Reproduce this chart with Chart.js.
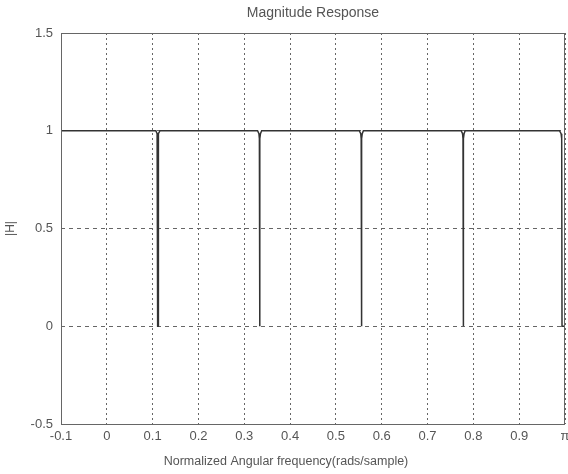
<!DOCTYPE html>
<html><head><meta charset="utf-8">
<script src="https://cdn.jsdelivr.net/npm/chart.js@4/dist/chart.umd.min.js"></script>
<style>html,body{margin:0;padding:0;background:#fff}#wrap{width:568px;height:474px}</style>
</head><body><div id="wrap"><canvas id="c" width="568" height="474"></canvas></div>
<script>
const freq = [-0.1, 0.107, 0.1098, 0.1108, 0.1111, 0.1118, 0.1121, 0.1131, 0.116,
  0.329, 0.332, 0.333, 0.3333, 0.334, 0.3343, 0.3353, 0.338,
  0.551, 0.5542, 0.5552, 0.5555, 0.5562, 0.5565, 0.5575, 0.560,
  0.7735, 0.7764, 0.7774, 0.7777, 0.7784, 0.7787, 0.7797, 0.782,
  0.988, 0.9915, 0.9928, 0.9935, 1.0];
const mag = [1, 1, 0.985, 0.96, 0, 0, 0.96, 0.985, 1,
  1, 0.985, 0.96, 0, 0, 0.96, 0.985, 1,
  1, 0.985, 0.96, 0, 0, 0.96, 0.985, 1,
  1, 0.985, 0.96, 0, 0, 0.96, 0.985, 1,
  1, 0.985, 0.96, 0, 0];
const xTickValues = [-0.1, 0, 0.1, 0.2, 0.3, 0.4, 0.5, 0.6, 0.7, 0.8, 0.9, 1.0];
const xTickLabels = ['-0.1', '0', '0.1', '0.2', '0.3', '0.4', '0.5', '0.6', '0.7', '0.8', '0.9', 'π'];
const yTickValues = [-0.5, 0, 0.5, 1, 1.5];
const yTickLabels = ['-0.5', '0', '0.5', '1', '1.5'];
const titleText = 'Magnitude Response';
const xLabelText = 'Normalized Angular frequency(rads/sample)';

const txt = '#555';
const fam = 'Liberation Sans, Arial, sans-serif';
const font = {family: fam, size: 13};

const boxPlugin = {
  id: 'box',
  afterDraw(chart) {
    const a = chart.chartArea, ctx = chart.ctx;
    ctx.save();
    ctx.strokeStyle = '#666';
    ctx.lineWidth = 1;
    ctx.strokeRect(Math.round(a.left) + 0.5, Math.round(a.top) + 0.5, Math.round(a.right - a.left) - 1, Math.round(a.bottom - a.top));
    ctx.fillStyle = txt;
    ctx.textAlign = 'center';
    ctx.textBaseline = 'middle';
    ctx.font = '14px ' + fam;
    ctx.fillText(titleText, (a.left + a.right) / 2, 13);
    ctx.font = '12.5px ' + fam;
    ctx.fillText(xLabelText, chart.width / 2 + 2, 462);
    ctx.restore();
  }
};

new Chart(document.getElementById('c'), {
  type: 'line',
  data: {
    datasets: [{
      data: freq.map((f, i) => ({x: f, y: mag[i]})),
      borderColor: '#333',
      borderWidth: 1.5,
      pointRadius: 0,
      tension: 0,
      fill: false
    }]
  },
  options: {
    responsive: false,
    animation: false,
    layout: {padding: {left: 0, right: 3, top: 33, bottom: 0}},
    plugins: {
      legend: {display: false},
      tooltip: {enabled: false},
      title: {display: false}
    },
    scales: {
      x: {
        type: 'linear', min: -0.1, max: 1.0,
        afterBuildTicks(s) { s.ticks = xTickValues.map(v => ({value: v})); },
        afterFit(s) { s.height = 50; s.paddingLeft = 0; s.paddingRight = 0; },
        ticks: {color: txt, font: font, padding: 5, maxRotation: 0, autoSkip: false,
          callback: (v, i) => xTickLabels[i]},
        grid: {color: '#666', lineWidth: 1, drawTicks: false},
        border: {display: false, dash: [2, 3]}
      },
      y: {
        type: 'linear', min: -0.5, max: 1.5,
        afterBuildTicks(s) { s.ticks = yTickValues.map(v => ({value: v})); },
        afterFit(s) { s.width = 61; s.paddingTop = 0; s.paddingBottom = 0; },
        ticks: {color: txt, font: font, padding: 8, autoSkip: false,
          callback: (v, i) => yTickLabels[i]},
        grid: {color: '#666', lineWidth: 1, drawTicks: false},
        border: {display: false, dash: [4, 4]},
        title: {display: true, text: '|H|', color: txt, font: {family: fam, size: 12}, padding: {top: 3, bottom: 4}}
      }
    }
  },
  plugins: [boxPlugin]
});
</script></body></html>
